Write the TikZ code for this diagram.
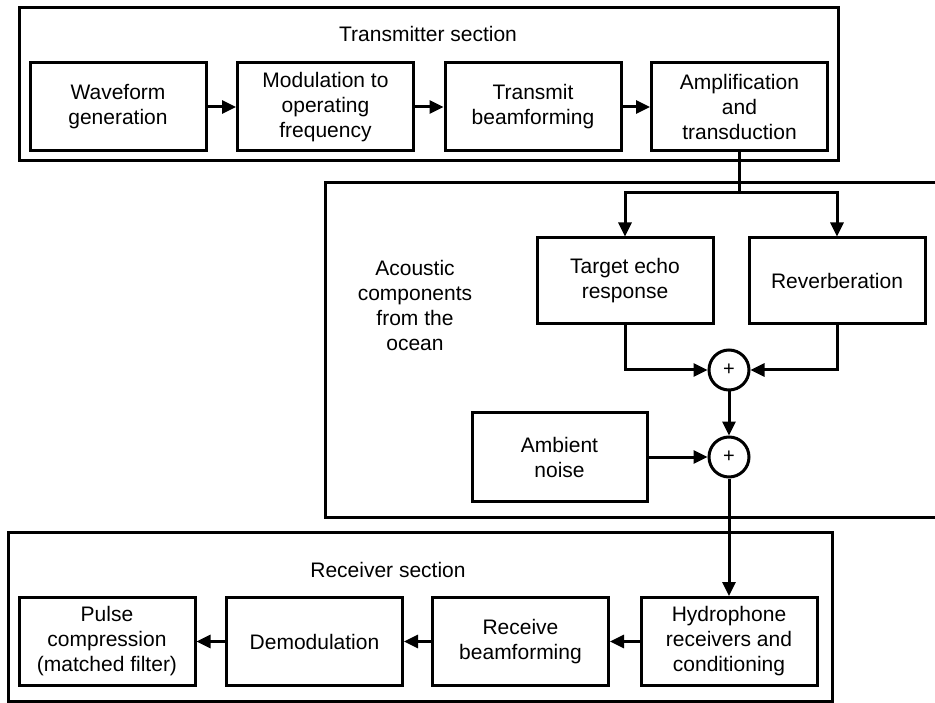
\documentclass[tikz,border=0pt]{standalone}
\usepackage{fontspec}
\setmainfont{Liberation Sans}
\usetikzlibrary{arrows.meta}
\begin{document}
\begin{tikzpicture}[x=1pt,y=-1pt,line width=3pt,
        blk/.style={draw,minimum width=176pt,minimum height=88pt,inner sep=0pt,align=center,
            font=\fontsize{21}{25}\selectfont},
        sumnode/.style={draw,circle,minimum size=40pt,inner sep=0pt,font=\fontsize{20}{20}\selectfont},
        lbl/.style={align=center,font=\fontsize{21}{25}\selectfont},
        arr/.style={-{Triangle[length=14pt,width=13pt]}}]
            \useasboundingbox (0,0) rectangle (935,703);
            \draw (19,8) rectangle (838,161);
            \draw (935,183) -- (325,183) -- (325,517) -- (935,517);
            \draw (8,532) rectangle (832,701);
            \node[lbl] (txsec) at (428,34) {Transmitter section};
            \node[lbl] (rxsec) at (388,570) {Receiver section};
            \node[lbl] (ocean) at (415,305) {Acoustic\\components\\from the\\ocean};
            \node[blk] (wave) at (118,107) {Waveform\\generation};
            \node[blk] (modu) at (325.5,107) {Modulation to\\operating\\frequency};
            \node[blk] (tbeam) at (533,107) {Transmit\\beamforming};
            \node[blk] (amp) at (739.5,107) {Amplification\\and\\transduction};
            \node[blk,minimum height=86pt] (tgt) at (625,281) {Target echo\\response};
            \node[blk,minimum height=86pt] (reverb) at (837,281) {Reverberation};
            \node[sumnode] (sum1) at (729,370) {+};
            \node[sumnode] (sum2) at (729,457) {+};
            \node[blk,minimum width=175pt] (noise) at (559.5,457) {Ambient\\noise};
            \node[blk] (pulse) at (107,641.5) {Pulse\\compression\\(matched filter)};
            \node[blk] (demod) at (314.5,641.5) {Demodulation};
            \node[blk] (rbeam) at (520.5,641.5) {Receive\\beamforming};
            \node[blk] (hydro) at (729,641.5) {Hydrophone\\receivers and\\conditioning};
            \coordinate (split) at (739.5,193);
            \draw[arr] (wave) -- (modu);
            \draw[arr] (modu) -- (tbeam);
            \draw[arr] (tbeam) -- (amp);
            \draw (amp.south) -- (split);
            \draw[arr] (split) -| (tgt.north);
            \draw[arr] (split) -| (reverb.north);
            \draw[arr] (tgt.south) |- (sum1.west);
            \draw[arr] (reverb.south) |- (sum1.east);
            \draw[arr] (sum1) -- (sum2);
            \draw[arr] (noise) -- (sum2);
            \draw[arr] (sum2) -- (hydro);
            \draw[arr] (hydro) -- (rbeam);
            \draw[arr] (rbeam) -- (demod);
            \draw[arr] (demod) -- (pulse);
        \end{tikzpicture}
\end{document}
